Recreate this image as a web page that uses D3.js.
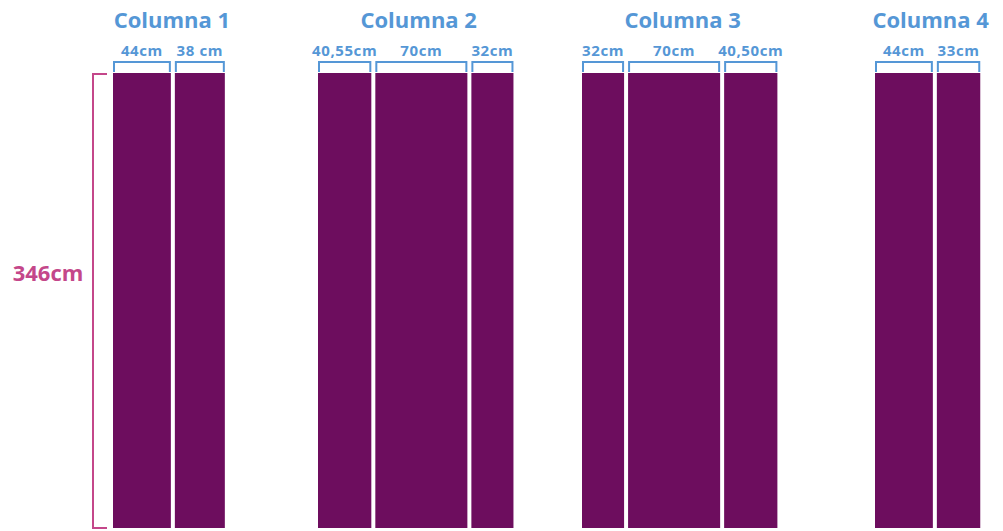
<!DOCTYPE html>
<html>
<head>
<meta charset="utf-8">
<script src="https://cdn.jsdelivr.net/npm/d3@7"></script>
<style>
  html, body { margin: 0; padding: 0; background: #ffffff; }
  svg { display: block; }
</style>
</head>
<body>
<svg id="chart" width="1003" height="531"></svg>
<script>
// ---- data ----
const columnNames = ["Columna 1", "Columna 2", "Columna 3", "Columna 4"];
const panelWidthsCm = [[44, 38], [40.55, 70, 32], [32, 70, 40.5], [44, 33]];
const panelLabels = [["44cm", "38 cm"], ["40,55cm", "70cm", "32cm"], ["32cm", "70cm", "40,50cm"], ["44cm", "33cm"]];
const panelHeightCm = 346;
const heightLabel = "346cm";

// ---- layout ----
const colStartPx = [113, 318, 582, 875];
const gapPx = 4;
const barTop = 73, barBottom = 528;
const blue = "#5597d6", pink = "#c4478a", purple = "#6d0d5e";
const font = "'Open Sans', sans-serif";

const svg = d3.select("#chart");

const y = d3.scaleLinear().domain([0, panelHeightCm]).range([barBottom, barTop]);
const w = d3.scaleLinear().domain([0, panelHeightCm]).range([0, barBottom - barTop]);

columnNames.forEach((name, ci) => {
  const widths = panelWidthsCm[ci];
  let x = colStartPx[ci];
  const panels = widths.map((cm, i) => {
    const p = { x0: x, x1: x + w(cm), label: panelLabels[ci][i] };
    x = p.x1 + gapPx;
    return p;
  });
  const g = svg.append("g");
  g.selectAll("rect").data(panels).join("rect")
    .attr("x", d => d.x0)
    .attr("y", y(panelHeightCm))
    .attr("width", d => d.x1 - d.x0)
    .attr("height", y(0) - y(panelHeightCm))
    .attr("fill", purple);

  g.selectAll("path.br").data(panels).join("path")
    .attr("class", "br")
    .attr("d", d => `M${d.x0 + 1},${barTop - 1}V${barTop - 11}H${d.x1 - 1}V${barTop - 1}`)
    .attr("fill", "none")
    .attr("stroke", blue)
    .attr("stroke-width", 2);

  g.selectAll("text.lbl").data(panels).join("text")
    .attr("class", "lbl")
    .attr("x", d => (d.x0 + d.x1) / 2)
    .attr("y", 56)
    .attr("text-anchor", "middle")
    .attr("font-family", font)
    .attr("font-weight", 700)
    .attr("font-size", 15)
    .attr("letter-spacing", 0.6)
    .attr("fill", blue)
    .text(d => d.label);

  const cx = (panels[0].x0 + panels[panels.length - 1].x1) / 2;
  g.append("text")
    .attr("x", cx + 3)
    .attr("y", 28)
    .attr("text-anchor", "middle")
    .attr("font-family", font)
    .attr("font-weight", 700)
    .attr("font-size", 22)
    .attr("fill", blue)
    .text(name);
});

// height bracket
svg.append("path")
  .attr("d", `M107,${y(panelHeightCm) + 1}H93V${y(0)}H107`)
  .attr("fill", "none")
  .attr("stroke", pink)
  .attr("stroke-width", 2);

svg.append("text")
  .attr("x", 48)
  .attr("y", 281)
  .attr("text-anchor", "middle")
  .attr("font-family", font)
  .attr("font-weight", 700)
  .attr("font-size", 22)
  .attr("fill", pink)
  .text(heightLabel);
</script>
</body>
</html>
